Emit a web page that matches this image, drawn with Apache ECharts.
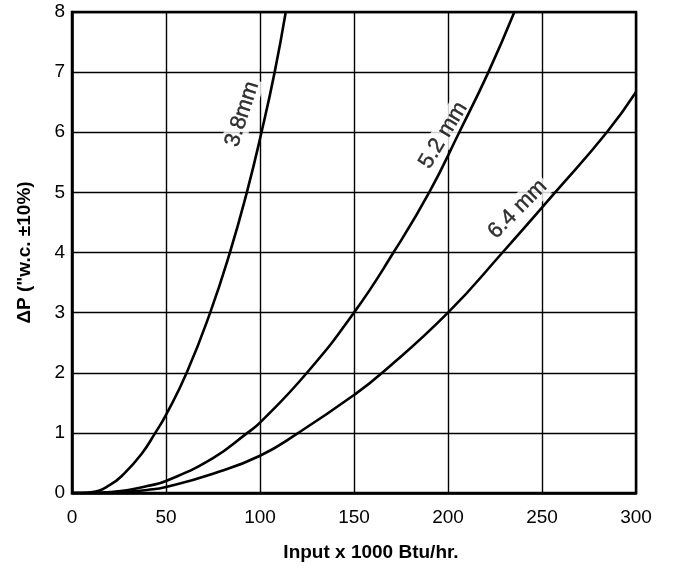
<!DOCTYPE html>
<html>
<head>
<meta charset="utf-8">
<script src="https://cdn.jsdelivr.net/npm/echarts@6/dist/echarts.min.js"></script>
<style>html,body{margin:0;padding:0;background:#fff}#c{width:681px;height:569px}</style>
</head>
<body>
<div id="c"></div>
<script>
var xTicks = [0, 50, 100, 150, 200, 250, 300];
var yTicks = [0, 1, 2, 3, 4, 5, 6, 7, 8];
var seriesNames = ['3.8mm', '5.2 mm', '6.4 mm'];
var curve38 = [[0,0],[5,0],[10,0.01],[20,0.13],[28,0.33],[37,0.65],[44.3,1],[50,1.3],[61,2],[73.5,3],[84,4],[93,5],[100.8,6],[107.8,7],[113.7,8]];
var curve52 = [[0,0],[10,0],[20,0.015],[30,0.05],[40,0.115],[50,0.2],[75,0.58],[93.3,1],[100,1.17],[125,2],[150,3],[171,4],[190,5],[206,6],[221.5,7],[235.3,8]];
var curve64 = [[0,0],[10,0],[20,0.006],[30,0.022],[40,0.05],[50,0.1],[75,0.32],[100,0.62],[120.4,1],[150,1.63],[165,2],[200,3],[229,4],[257,5],[284.5,6],[300,6.67]];
// label anchor positions (data coords) and rotations
var labelPos = [[90.5, 6.3], [197.5, 5.95], [237, 4.72]];
var labelRot = [72, 59, 45];

var chart = echarts.init(document.getElementById('c'));
var fontFam = '"Liberation Sans", Arial, sans-serif';
function lineSeries(name, data) {
  return {
    name: name, type: 'line', data: data, z: 3,
    smooth: 0.5, showSymbol: false, symbol: 'none',
    lineStyle: {color: '#000', width: 2.6}
  };
}
var labelData = labelPos.map(function (p, i) {
  return {
    value: p,
    label: {
      show: true, position: 'inside', formatter: seriesNames[i], rotate: labelRot[i],
      fontSize: 22, color: '#000', fontFamily: fontFam,
      textBorderWidth: 0.4, textBorderColor: '#000',
      backgroundColor: '#fff', padding: [1, 3]
    }
  };
});
chart.setOption({
  animation: false,
  backgroundColor: '#fff',
  grid: {left: 72, right: 45, top: 12, bottom: 76, show: true, borderColor: '#000', borderWidth: 2.5, backgroundColor: 'transparent'},
  xAxis: {
    type: 'value', min: xTicks[0], max: xTicks[xTicks.length - 1], interval: 50,
    name: 'Input x 1000 Btu/hr.', nameLocation: 'middle', nameGap: 50,
    nameTextStyle: {fontSize: 19, fontWeight: 'bold', color: '#000', fontFamily: fontFam, padding: [0, 0, 0, 34]},
    axisLine: {show: true, lineStyle: {color: '#000', width: 2.5}},
    axisTick: {show: false},
    axisLabel: {fontSize: 19, color: '#000', fontFamily: fontFam, margin: 15},
    splitLine: {show: true, lineStyle: {color: '#000', width: 1.4}}
  },
  yAxis: {
    type: 'value', min: yTicks[0], max: yTicks[yTicks.length - 1], interval: 1,
    name: 'ΔP ("w.c. ±10%)', nameLocation: 'middle', nameGap: 38,
    nameTextStyle: {fontSize: 19, fontWeight: 'bold', color: '#000', fontFamily: fontFam},
    axisLine: {show: true, lineStyle: {color: '#000', width: 2.5}},
    axisTick: {show: false},
    axisLabel: {fontSize: 19, color: '#000', fontFamily: fontFam, margin: 7},
    splitLine: {show: true, lineStyle: {color: '#000', width: 1.4}}
  },
  series: [
    lineSeries(seriesNames[0], curve38),
    lineSeries(seriesNames[1], curve52),
    lineSeries(seriesNames[2], curve64),
    {type: 'scatter', z: 1, symbolSize: 1, silent: true, itemStyle: {color: 'rgba(0,0,0,0)'}, data: labelData}
  ]
});
</script>
</body>
</html>
